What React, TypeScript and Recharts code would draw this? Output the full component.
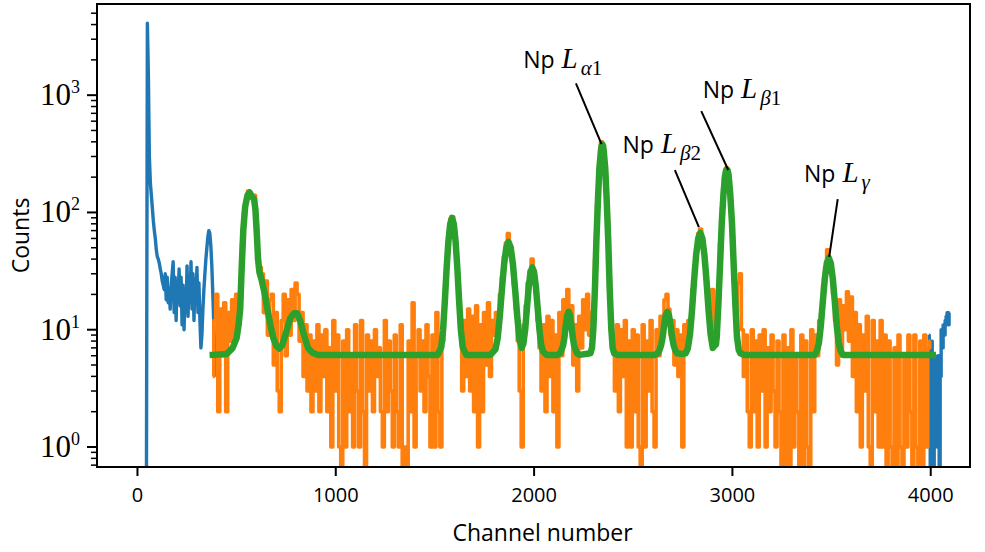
import React from 'react';
import { LineChart, Line, XAxis, YAxis, ReferenceLine, ReferenceDot, ReferenceArea } from 'recharts';

// raw spectrum, only the parts not covered by the fitted region
const blueHeadStart = 40;
const blueStep = 5;
const blueHead = [
  0, 0, 4100, 1500, 300, 180, 140, 110, 85, 70, 60, 48, 42, 40, 37, 33, 30, 26, 24, 22,
  30, 18, 28, 17, 22, 15, 24, 30, 38, 14, 28, 12, 26, 20, 33, 16, 28, 11, 24, 10,
  22, 14, 35, 13, 25, 18, 38, 15, 30, 12, 27, 18, 34, 14, 25, 12, 7, 9, 15, 22,
  30, 40, 50, 62, 70, 66, 52, 35, 20, 11, 6, 4.5, 4,
];
const blueTailStart = 3990;
const blueTail = [9, 7, 0, 8, 3, 0, 6, 5, 2, 1, 6, 0, 4, 10, 7, 11, 9, 12, 13, 14, 11, 14];

// fitted region counts, every 10th channel from 380
const orangeStart = 380;
const orangeStep = 10;
const orangeA = [
  4, 12, 20, 2, 15, 6, 17, 2, 14, 8,
  18, 9, 20, 15, 20, 55, 100, 130, 152, 145,
  135, 140, 80, 40, 34, 30, 14, 26, 9, 18,
  20, 5, 14, 3, 2, 12, 20, 6, 18, 9,
  22, 12, 25, 20, 8, 14, 4, 11, 3, 9,
  2, 8, 3, 11, 2, 9, 4, 10, 2, 7,
  1, 12, 3, 9, 1, 0, 8, 1, 10, 2,
  6, 1, 11, 3, 1, 12, 2, 0, 9, 3,
  8, 2, 10, 4, 7, 2, 1, 12, 2, 8,
  3, 1, 9, 2, 1, 11, 0, 1, 0, 8,
];
const orangeB = [
  2, 17, 1, 6, 10, 3, 8, 2, 11, 4,
  1, 9, 1, 14, 2, 1, 8, 18, 38, 65,
  88, 92, 68, 40, 20, 10, 3, 12, 4, 15,
  3, 13, 2, 16, 1, 11, 2, 14, 5, 17,
  4, 12, 9, 14, 12, 20, 28, 42, 55, 66,
  52, 40, 24, 15, 8, 3, 1, 11, 16, 25,
  32, 40, 32, 22, 12, 7, 3, 11, 2, 13,
  4, 12, 2, 9, 1, 14, 6, 18, 10, 22,
  12, 16, 5, 11, 3, 13, 7, 18, 10, 20,
  9, 14, 12, 40, 115, 245, 400, 345, 215, 90,
  28, 12, 9, 3, 11, 2, 10, 4, 12, 1,
  8, 1, 10, 2, 9, 1, 0, 11, 1, 8,
  3, 12, 2, 1, 10, 6, 13, 9, 18, 20,
];
const orangeC = [
  15, 9, 12, 5, 10, 4, 9, 1, 11, 7,
  12, 11, 22, 35, 50, 66, 72, 58, 40, 24,
  20, 13, 22, 9, 14, 22, 55, 110, 200, 240,
  215, 130, 62, 25, 14, 25, 30, 10, 4, 9,
  2, 1, 10, 2, 8, 1, 9, 3, 10, 1,
  7, 2, 9, 3, 1, 8, 2, 0, 9, 0,
  7, 0, 10, 1, 6, 2, 0, 9, 0, 8,
  1, 0, 10, 2, 9, 6, 12, 14, 24, 34,
  48, 38, 30, 20, 12, 5, 18, 6, 16, 10,
  21, 8, 19, 4, 14, 2, 11, 1, 9, 3,
  13, 1, 0, 12, 2, 8, 1, 12, 1, 9,
  0, 8, 1, 0, 7, 0, 9, 1, 0, 6,
  1, 9, 2, 0, 9, 1, 0, 8, 0, 9,
  1, 7, 8,
];

// fit curve
const fitChannels = [
  380, 450, 480, 500, 510, 518, 526, 534, 543, 555, 566, 578, 588, 595, 602, 608, 615, 625, 640, 655,
  670, 685, 700, 715, 730, 750, 770, 790, 805, 820, 840, 860, 880, 910,
  1514, 1532, 1541, 1550, 1559, 1568, 1577, 1586, 1595, 1604, 1613, 1622, 1631, 1640, 1658,
  1780, 1805, 1816, 1827, 1838, 1849, 1860, 1871, 1882, 1893, 1904, 1915, 1926, 1937, 1946,
  1955, 1964, 1973, 1982, 1991, 2000, 2009, 2018, 2027, 2036, 2045, 2063,
  2118, 2132, 2146, 2153, 2160, 2167, 2174, 2181, 2188, 2195, 2202, 2216, 2230,
  2284, 2292, 2299, 2307, 2314, 2322, 2329, 2337, 2340, 2344, 2348, 2351, 2359, 2366, 2374, 2381,
  2389, 2396, 2404, 2420,
  2608, 2624, 2632, 2640, 2648, 2656, 2664, 2672, 2680, 2688, 2696, 2704, 2712, 2720, 2745,
  2764, 2775, 2786, 2796, 2807, 2817, 2828, 2838, 2848, 2859, 2869, 2880, 2890, 2901, 2910, 2917,
  2921, 2929, 2938, 2946, 2955, 2963, 2968, 2972, 2976, 2981, 2989, 2998, 3006, 3015, 3023, 3032,
  3040, 3060,
  3416, 3426, 3436, 3446, 3456, 3466, 3476, 3486, 3496, 3506, 3516, 3526, 3536, 3546, 3556, 4010,
];
const fitCounts = [
  6.1, 6.2, 7, 8.5, 11, 15, 35, 72, 112, 140, 148, 136, 130, 105, 65, 40, 31, 27, 21, 15,
  11, 8.5, 7.3, 6.9, 7.4, 9.5, 12.5, 13.8, 13.8, 12, 9, 7, 6.4, 6.1,
  6.1, 7.1, 9.9, 17.5, 33.5, 57, 80, 90, 80, 57, 33.5, 17.5, 9.9, 7.1, 6.1,
  6.1, 6.8, 8.4, 13, 22.4, 36.5, 50.3, 56, 50.3, 36.5, 22.4, 13, 8.4, 7.0, 7.6,
  10, 15.3, 23.2, 30.9, 34, 30.9, 23.2, 15.3, 10, 7.4, 6.5, 6.1,
  6.1, 6.3, 7.3, 8.6, 11, 13.3, 14.2, 13.3, 11, 8.6, 7.3, 6.3, 6.1,
  6.3, 7, 10.4, 22.7, 57, 128, 234, 337, 370, 381, 370, 337, 234, 128, 57, 22.7,
  10.4, 7, 6.3, 6.1,
  6.1, 6.3, 6.7, 7.3, 8.6, 11, 13.3, 14.2, 13.3, 11, 8.6, 7.3, 6.7, 6.3, 6.2,
  6.3, 6.9, 9.1, 14.4, 26.7, 43.2, 60.5, 67, 60.5, 43.2, 26.7, 14.4, 9.2, 7.0, 7.3, 7.5,
  8.7, 16.2, 37, 80, 144, 206, 228, 233, 228, 206, 144, 80, 37, 16.2, 8.7, 6.7,
  6.3, 6.1,
  6.1, 6.6, 7.7, 10.9, 17.6, 27.4, 37, 41, 37, 27.4, 17.6, 10.9, 7.7, 6.6, 6.1, 6.1,
];

// peak annotations: line from text to peak, text start position
const peakNames = ['\u03b1', '\u03b2', '\u03b2', '\u03b3'];
const peakIndex = ['1', '2', '1', ''];
const peakChannel = [2340, 2831, 2979, 3488];
const peakCount = [383, 75, 230, 41.8];
const lineTopChannel = [2211, 2710, 2843, 3531];
const lineTopCount = [1261, 230, 731, 130];
const textChannel = [1945, 2446, 2850, 3361];
const textCount = [1693, 319, 939, 182];

const xTicks = [0, 1000, 2000, 3000, 4000];
const yTicks = [
  0.7, 0.8, 0.9, 1, 2, 3, 4, 5, 6, 7, 8, 9, 10, 20, 30, 40, 50, 60, 70, 80, 90,
  100, 200, 300, 400, 500, 600, 700, 800, 900, 1000, 2000, 3000, 4000, 5000,
];

const FLOOR = 0.3; // zero counts fall off the log axis
const toPoints = (start: number, step: number, vals: number[]) =>
  vals.map((v, i) => ({ ch: start + step * i, v: v > 0 ? v : FLOOR }));

const blueHeadData = toPoints(blueHeadStart, blueStep, blueHead);
const blueTailData = toPoints(blueTailStart, blueStep, blueTail);
const orangeData = toPoints(orangeStart, orangeStep, [...orangeA, ...orangeB, ...orangeC]);
const fitData = fitChannels.map((ch, i) => ({ ch, v: fitCounts[i] }));

const SANS = "'Open Sans', sans-serif";
const SERIF = "'Liberation Serif', serif";
const X_DOMAIN: [number, number] = [-204, 4198];
const Y_DOMAIN: [number, number] = [0.675, 5990];

function YTick(props: any) {
  const { x, y, payload } = props;
  const lg = Math.log10(payload.value);
  const exp = Math.round(lg);
  const major = Math.abs(lg - exp) < 1e-6;
  return (
    <g>
      <line x1={x} x2={x - (major ? 10 : 6)} y1={y} y2={y} stroke="#000" strokeWidth={major ? 2 : 1.5} />
      {major && (
        <text x={x - 17} y={y + 10} textAnchor="end" fontFamily={SERIF} fontSize={31} fill="#000">
          10<tspan dy={-12} fontSize={18}>{exp}</tspan>
        </text>
      )}
    </g>
  );
}

function PeakText({ viewBox, i }: any) {
  const { x, y } = viewBox;
  return (
    <text x={x} y={y} fill="#000">
      <tspan fontFamily={SANS} fontSize={23}>{'Np\u00a0'}</tspan>
      <tspan fontFamily={SERIF} fontStyle="italic" fontSize={29} dx={1}>L</tspan>
      <tspan fontFamily={SERIF} fontStyle="italic" fontSize={21} dx={3} dy={7}>{peakNames[i]}</tspan>
      {peakIndex[i] && <tspan fontFamily={SERIF} fontSize={21}>{peakIndex[i]}</tspan>}
    </text>
  );
}

export default function App() {
  return (
    <div style={{ position: 'absolute', left: 0, top: 0, background: '#fff' }}>
      <LineChart width={985} height={552} margin={{ top: 4, right: 15, bottom: 0, left: 0 }}>
        <XAxis
          dataKey="ch"
          type="number"
          domain={X_DOMAIN}
          allowDataOverflow
          ticks={xTicks}
          interval={0}
          height={85}
          tickSize={9}
          tickMargin={12}
          axisLine={{ stroke: '#000', strokeWidth: 2 }}
          tickLine={{ stroke: '#000', strokeWidth: 2 }}
          tick={{ fill: '#000', fontSize: 20, fontFamily: SANS }}
          label={{
            value: 'Channel number',
            position: 'insideBottom',
            offset: 11,
            dx: 9,
            fill: '#000',
            fontSize: 23,
            fontFamily: SANS,
          }}
        />
        <YAxis
          type="number"
          scale="log"
          domain={Y_DOMAIN}
          allowDataOverflow
          ticks={yTicks}
          interval={0}
          width={97}
          tickSize={0}
          tickMargin={0}
          tickLine={false}
          axisLine={{ stroke: '#000', strokeWidth: 2 }}
          tick={<YTick />}
          label={{
            content: ({ viewBox }: any) => {
              const cx = viewBox.x + 29;
              const cy = viewBox.y + viewBox.height / 2;
              return (
                <text x={cx} y={cy} transform={`rotate(-90, ${cx}, ${cy})`} textAnchor="middle"
                  fontFamily={SANS} fontSize={23} fill="#000">Counts</text>
              );
            },
          }}
        />

        <Line data={blueHeadData} dataKey="v" type="linear" dot={false} stroke="#1f77b4" strokeWidth={3.4}
          strokeLinejoin="round" isAnimationActive={false} />
        <Line data={blueTailData} dataKey="v" type="step" dot={false} stroke="#1f77b4" strokeWidth={3.4}
          strokeLinejoin="round" isAnimationActive={false} />
        <Line data={orangeData} dataKey="v" type="step" dot={false} stroke="#ff7f0e" strokeWidth={3.6}
          strokeLinejoin="round" isAnimationActive={false} />
        <Line data={fitData} dataKey="v" type="linear" dot={false} stroke="#2ca02c" strokeWidth={6.5}
          strokeLinejoin="round" strokeLinecap="square" isAnimationActive={false} />

        {peakChannel.map((ch, i) => (
          <ReferenceLine
            key={`l${i}`}
            segment={[
              { x: lineTopChannel[i], y: lineTopCount[i] },
              { x: ch, y: peakCount[i] },
            ]}
            stroke="#000"
            strokeWidth={2}
            ifOverflow="visible"
          />
        ))}
        {textChannel.map((ch, i) => (
          <ReferenceDot
            key={`t${i}`}
            x={ch}
            y={textCount[i]}
            r={0}
            fill="none"
            stroke="none"
            ifOverflow="visible"
            label={{ content: (p: any) => <PeakText viewBox={p.viewBox} i={i} /> }}
          />
        ))}
        <ReferenceArea
          x1={X_DOMAIN[0]}
          x2={X_DOMAIN[1]}
          y1={Y_DOMAIN[0]}
          y2={Y_DOMAIN[1]}
          fill="none"
          stroke="#000"
          strokeWidth={2}
          ifOverflow="visible"
        />
      </LineChart>
    </div>
  );
}
